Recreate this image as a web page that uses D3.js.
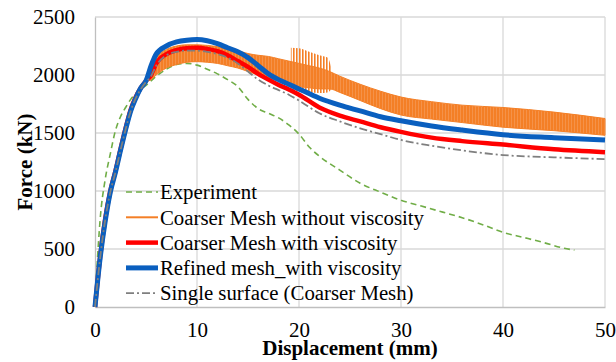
<!DOCTYPE html>
<html>
<head>
<meta charset="utf-8">
<script src="https://cdn.jsdelivr.net/npm/d3@7"></script>
<style>
  body { margin: 0; background: #fff; }
  svg { display: block; font-family: "Liberation Serif", serif; }
  .grid line { stroke: #d9d9d9; stroke-width: 1.3; }
  .os text { font-family: "Liberation Serif", serif; font-size: 21px; fill: #000; }
</style>
</head>
<body>
<div id="okvir"></div>
<script>
// ---- data ----
const xTicks = [0, 10, 20, 30, 40, 50]
const yTicks = [0, 500, 1000, 1500, 2000, 2500]

const expDisp  = [0,0.2,0.5,1,1.5,2,2.5,3,3.5,4,5,6,7,8,9,10,11,12,13,14,15,16,17,18,19,20,21,22,24,26,28,30,32,34,36,38,40,42,44,46,47]
const expForce = [0,350,750,1100,1320,1520,1640,1720,1790,1840,1910,1990,2050,2090,2100,2085,2050,2010,1960,1900,1790,1710,1670,1630,1570,1490,1380,1300,1180,1067,990,920,870,820,770,710,644,600,555,506,490]

// coarser mesh without viscosity: oscillating band (upper / lower envelope)
const orDisp = [0,1,2,3,4,5,5.5,6,7,8,9,10,11,12,13,14,15,16,17,18,19,20,21,22,23,24,26,28,30,33,36,40,45,50]
const orHigh = [0,760,1170,1540,1810,1960,2050,2150,2220,2250,2260,2260,2255,2245,2230,2210,2185,2170,2160,2140,2120,2100,2080,2060,2030,1990,1920,1860,1810,1770,1740,1720,1680,1625]
const orLow  = [0,740,1150,1520,1790,1940,1960,2000,2060,2090,2110,2115,2110,2100,2080,2060,2030,2000,1970,1950,1920,1900,1890,1880,1880,1850,1780,1710,1655,1620,1590,1550,1520,1480]
// the big spikes between ~19 and ~23 mm
const spDisp = [19.2,20,21,22,22.8,23.2]
const spHigh = [2234,2230,2200,2170,2150,2050]
const spLow  = [1860,1855,1850,1845,1850,1880]

const simDisp   = [0,0.5,1,1.5,2,2.5,3,3.5,4,4.5,5,5.5,6,7,8,9,10,11,12,13,14,15,16,17,18,19,20,22,24,26,28,30,33,36,40,45,50]
const redForce  = [0,430,760,1000,1170,1360,1540,1700,1810,1890,1950,2000,2100,2180,2215,2230,2235,2225,2205,2170,2120,2070,2010,1960,1915,1875,1830,1720,1650,1600,1550,1510,1460,1430,1400,1360,1335]
const blueForce = [0,420,740,990,1160,1350,1530,1690,1800,1890,1950,2080,2180,2250,2285,2300,2305,2295,2270,2235,2200,2150,2080,2010,1960,1920,1880,1800,1740,1690,1640,1605,1560,1525,1485,1460,1440]
const grayForce = [0,420,750,990,1160,1350,1530,1690,1800,1880,1940,1990,2080,2170,2200,2210,2210,2200,2180,2150,2100,2030,1960,1910,1870,1830,1780,1670,1600,1540,1490,1440,1390,1350,1310,1290,1275]

const legendNames = ["Experiment", "Coarser Mesh without viscosity", "Coarser Mesh with viscosity",
                     "Refined mesh_with viscosity", "Single surface (Coarser Mesh)"]

function crtaj() {
  // 1. dimenzije
  const dim = { sirina: 616, visina: 362, margine: { top: 17, right: 11, bottom: 55, left: 95 } }
  dim.grSirina = dim.sirina - dim.margine.left - dim.margine.right
  dim.grVisina = dim.visina - dim.margine.top - dim.margine.bottom

  const svg = d3.select("#okvir").append("svg")
      .attr("width", dim.sirina)
      .attr("height", dim.visina)

  const defs = svg.append("defs")
  const gusto = defs.append("pattern").attr("id", "gusto")
      .attr("patternUnits", "userSpaceOnUse").attr("width", 3).attr("height", 10)
  gusto.append("rect").attr("width", 3).attr("height", 10).attr("fill", "#f69a58")
  gusto.append("rect").attr("width", 2.3).attr("height", 10).attr("fill", "#f47f26")
  const rijetko = defs.append("pattern").attr("id", "rijetko")
      .attr("patternUnits", "userSpaceOnUse").attr("width", 3).attr("height", 10)
  rijetko.append("rect").attr("width", 1.6).attr("height", 10).attr("fill", "#f47f26")

  const g = svg.append("g")
      .attr("transform", `translate(${dim.margine.left},${dim.margine.top})`)

  // 2. skale
  const x = d3.scaleLinear().domain([0, 50]).range([0, dim.grSirina])
  const y = d3.scaleLinear().domain([0, 2500]).range([dim.grVisina, 0])

  // 3. mreza
  g.append("g").attr("class", "grid")
    .selectAll("line").data(yTicks.slice(1)).join("line")
      .attr("x1", 0).attr("x2", dim.grSirina)
      .attr("y1", d => y(d)).attr("y2", d => y(d))
  g.append("g").attr("class", "grid")
    .selectAll("line").data(xTicks.slice(1)).join("line")
      .attr("y1", 0).attr("y2", dim.grVisina)
      .attr("x1", d => x(d)).attr("x2", d => x(d))

  // osi
  const yOs = g.append("g").attr("class", "os")
    .call(d3.axisLeft(y).tickValues(yTicks).tickFormat(d3.format("d")).tickSize(0).tickPadding(20))
  yOs.attr("font-family", null)
  yOs.select(".domain").attr("stroke", "#bfbfbf").attr("stroke-width", 1.3)
  const xOs = g.append("g").attr("class", "os")
      .attr("transform", `translate(0,${dim.grVisina})`)
    .call(d3.axisBottom(x).tickValues(xTicks).tickFormat(d3.format("d")).tickSize(0).tickPadding(15))
  xOs.attr("font-family", null)
  xOs.select(".domain").attr("stroke", "#bfbfbf").attr("stroke-width", 1.3)

  // 4. podaci
  const linija = d3.line().x(d => x(d[0])).y(d => y(d[1])).curve(d3.curveMonotoneX)
  const povrs = d3.area().x(d => x(d[0])).y0(d => y(d[2])).y1(d => y(d[1])).curve(d3.curveMonotoneX)

  g.append("path")
      .attr("d", linija(d3.zip(expDisp, expForce)))
      .attr("fill", "none").attr("stroke", "#70ad47").attr("stroke-width", 1.6)
      .attr("stroke-dasharray", "6,4")

  const pojas = d3.zip(orDisp, orHigh, orLow)
  g.append("path")
      .attr("d", povrs(pojas))
      .attr("fill", "url(#gusto)").attr("stroke", "#f47f26").attr("stroke-width", 1)
  g.append("path")
      .attr("d", povrs(d3.zip(spDisp, spHigh, spLow)))
      .attr("fill", "url(#rijetko)")

  g.append("path")
      .attr("d", linija(d3.zip(simDisp, redForce)))
      .attr("fill", "none").attr("stroke", "#ff0000").attr("stroke-width", 4.5)
  g.append("path")
      .attr("d", linija(d3.zip(simDisp, blueForce)))
      .attr("fill", "none").attr("stroke", "#0a5fbf").attr("stroke-width", 5)
  g.append("path")
      .attr("d", linija(d3.zip(simDisp, grayForce)))
      .attr("fill", "none").attr("stroke", "#7f7f7f").attr("stroke-width", 1.8)
      .attr("stroke-dasharray", "8,3,2,3")

  // 5. legenda
  const stilovi = [
    { boja: "#70ad47", sirina: 1.6, crtice: "6,4" },
    { boja: "#f47f26", sirina: 2, crtice: null },
    { boja: "#ff0000", sirina: 4.5, crtice: null },
    { boja: "#0a5fbf", sirina: 5, crtice: null },
    { boja: "#7f7f7f", sirina: 1.8, crtice: "8,3,2,3" },
  ]
  const legenda = svg.append("g").attr("transform", "translate(126,192)")
  const stavka = legenda.selectAll("g").data(legendNames).join("g")
      .attr("transform", (d, i) => `translate(0,${i * 25.3})`)
  stavka.append("line")
      .attr("x1", 0).attr("x2", 32)
      .attr("stroke", (d, i) => stilovi[i].boja)
      .attr("stroke-width", (d, i) => stilovi[i].sirina)
      .attr("stroke-dasharray", (d, i) => stilovi[i].crtice)
  stavka.append("text")
      .attr("x", 34).attr("dy", "0.35em")
      .attr("font-size", 20.8)
      .text(d => d)

  // 6. naslovi osi
  svg.append("text")
      .attr("x", dim.margine.left + dim.grSirina / 2).attr("y", 355)
      .attr("text-anchor", "middle").attr("font-size", 21).attr("font-weight", "bold")
      .text("Displacement (mm)")
  svg.append("text")
      .attr("transform", `translate(32,${dim.margine.top + dim.grVisina / 2}) rotate(-90)`)
      .attr("text-anchor", "middle").attr("font-size", 21).attr("font-weight", "bold")
      .text("Force (kN)")
}
crtaj()
</script>
</body>
</html>
